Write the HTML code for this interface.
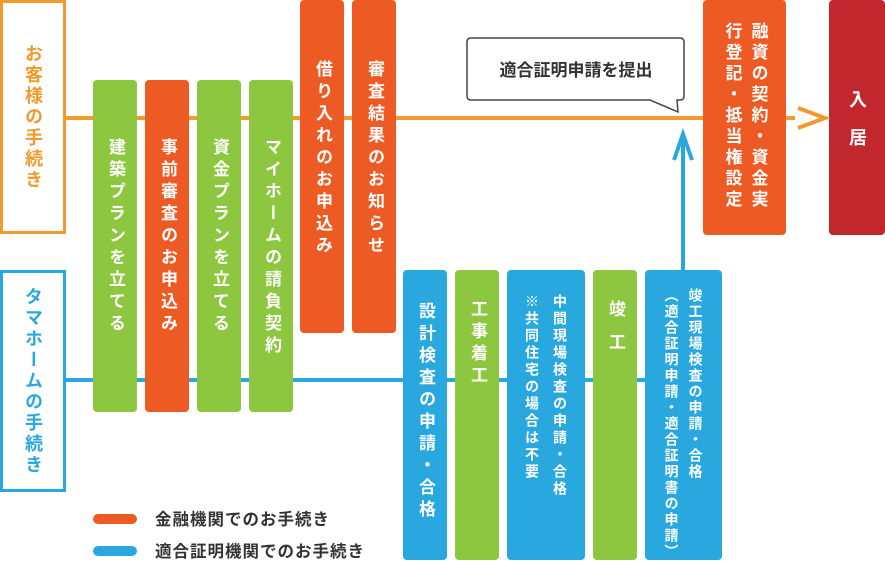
<!DOCTYPE html>
<html><head><meta charset="utf-8"><style>
body{margin:0;width:885px;height:563px;position:relative;background:#fff;font-family:"Liberation Sans","Noto Sans CJK JP",sans-serif;overflow:hidden}
.a{position:absolute;box-sizing:border-box}
.b{position:absolute;box-sizing:border-box;border-radius:4px;color:#fff;font-weight:bold;writing-mode:vertical-rl;display:flex;align-items:center;font-size:17px;letter-spacing:5px;line-height:20px}
.g{background:#8dc63f}.o{background:#ee5a24}.u{background:#29a8e0}
</style></head><body>
<div class="a" style="left:65px;top:116px;width:730px;height:4px;background:#f29a2e"></div>
<div class="a" style="left:65px;top:378px;width:580px;height:4px;background:#29a8e0"></div>
<div class="a" style="left:0;top:0;width:66px;height:234px;border:3px solid #f29a2e;writing-mode:vertical-rl;display:flex;align-items:center;justify-content:center;color:#f29a2e;font-weight:bold;font-size:18px;letter-spacing:3px">お客様の手続き</div>
<div class="a" style="left:0;top:270px;width:66px;height:222px;border:3px solid #29a8e0;writing-mode:vertical-rl;display:flex;align-items:center;justify-content:center;color:#29a8e0;font-weight:bold;font-size:18px;letter-spacing:3px">タマホームの手続き</div>
<div class="b g" style="left:93px;top:80px;width:44px;height:332px;padding-top:58px">建築プランを立てる</div>
<div class="b o" style="left:145px;top:80px;width:44px;height:332px;padding-top:58px">事前審査のお申込み</div>
<div class="b g" style="left:197px;top:80px;width:44px;height:332px;padding-top:58px">資金プランを立てる</div>
<div class="b g" style="left:249px;top:80px;width:44px;height:332px;padding-top:58px">マイホームの請負契約</div>
<div class="b o" style="left:300px;top:0;width:44px;height:333px;padding-top:60px">借り入れのお申込み</div>
<div class="b o" style="left:352px;top:0;width:44px;height:333px;padding-top:60px">審査結果のお知らせ</div>
<div class="b u" style="left:403px;top:270px;width:44px;height:290px;padding-top:32px">設計検査の申請・合格</div>
<div class="b g" style="left:455px;top:270px;width:44px;height:290px;padding-top:30px">工事着工</div>
<div class="b u" style="left:507px;top:270px;width:78px;height:290px;padding-top:24px;font-size:14px;letter-spacing:3px;line-height:28px;justify-content:flex-start">中間現場検査の申請・合格<br>※共同住宅の場合は不要</div>
<div class="b g" style="left:593px;top:270px;width:44px;height:290px;padding-top:30px;letter-spacing:16px">竣工</div>
<div class="b u" style="left:645px;top:270px;width:77px;height:290px;padding-top:18px;font-size:14px;letter-spacing:2px;line-height:24px;justify-content:flex-start">竣工現場検査の申請・合格<br>（適合証明申請・適合証明書の申請）</div>
<div class="b o" style="left:703px;top:0;width:83px;height:235px;padding-top:22px;line-height:26px;letter-spacing:4px">融資の契約・資金実<br>行登記・抵当権設定</div>
<div class="b" style="left:829px;top:0;width:56px;height:235px;background:#c1272d;justify-content:center;font-size:18px;letter-spacing:20px;padding-top:20px">入居</div>
<svg class="a" style="left:0;top:0" width="885" height="563">
<polyline points="798,108 825,118 798,128" fill="none" stroke="#f29a2e" stroke-width="4"/>
<line x1="683" y1="270" x2="683" y2="134" stroke="#29a8e0" stroke-width="4"/>
<polyline points="674,160 683,134 692,160" fill="none" stroke="#29a8e0" stroke-width="4"/>
<path d="M471,38 H680 Q684,38 684,42 V96 Q684,100 680,100 H677 L678,112 L650,100 H471 Q467,100 467,96 V42 Q467,38 471,38 Z" fill="#fff" stroke="#444" stroke-width="1.5"/>
<text x="576" y="76" text-anchor="middle" font-size="17" font-weight="bold" fill="#333" font-family="Liberation Sans,Noto Sans CJK JP,sans-serif">適合証明申請を提出</text>
<rect x="93" y="514" width="44" height="10" rx="5" fill="#ee5a24"/>
<rect x="93" y="546" width="44" height="10" rx="5" fill="#29a8e0"/>
<text x="155" y="525" font-size="16.5" letter-spacing="1" font-weight="bold" fill="#333" font-family="Liberation Sans,Noto Sans CJK JP,sans-serif">金融機関でのお手続き</text>
<text x="155" y="557" font-size="16.5" letter-spacing="1" font-weight="bold" fill="#333" font-family="Liberation Sans,Noto Sans CJK JP,sans-serif">適合証明機関でのお手続き</text>
</svg>
</body></html>
